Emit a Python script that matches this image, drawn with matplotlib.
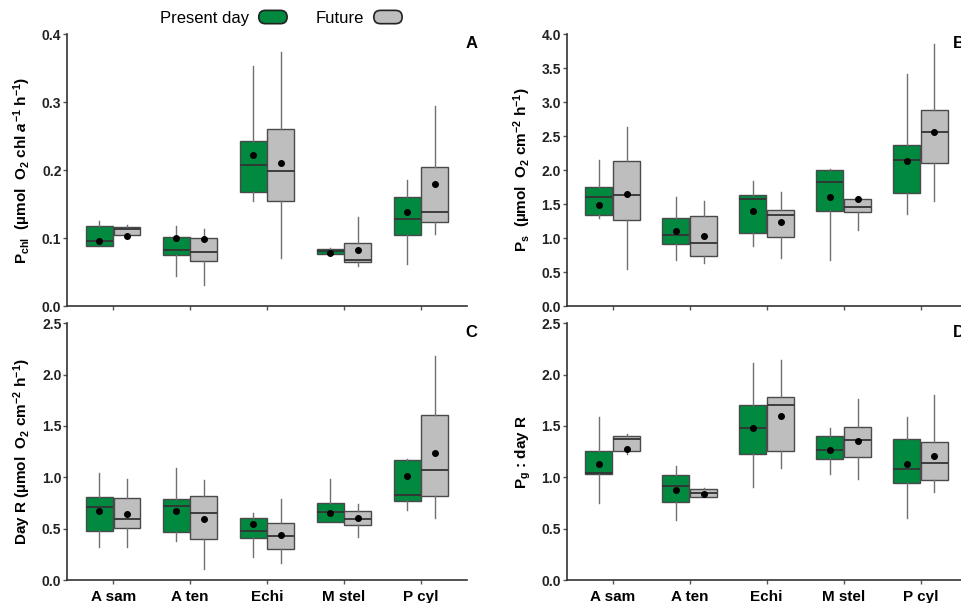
import numpy as np
import matplotlib
matplotlib.use('Agg')
import matplotlib.pyplot as plt
from matplotlib.patches import Patch, FancyBboxPatch
from matplotlib.legend_handler import HandlerPatch

plt.rcParams['font.family'] = ['Liberation Sans', 'DejaVu Sans']
plt.rcParams['font.weight'] = 'bold'
plt.rcParams['mathtext.fontset'] = 'custom'
plt.rcParams['mathtext.rm'] = 'Liberation Sans:bold'
plt.rcParams['mathtext.it'] = 'Liberation Sans:italic:bold'
plt.rcParams['mathtext.bf'] = 'Liberation Sans:bold'
plt.rcParams['mathtext.default'] = 'rm'

species = ['A sam', 'A ten', 'Echi', 'M stel', 'P cyl']

# each row: whisker low, q1, median, q3, whisker high, mean
pchl_present = [[0.089, 0.089, 0.095, 0.118, 0.125, 0.095],
                [0.044, 0.075, 0.082, 0.102, 0.117, 0.100],
                [0.155, 0.167, 0.208, 0.242, 0.353, 0.222],
                [0.077, 0.077, 0.081, 0.084, 0.086, 0.078],
                [0.062, 0.105, 0.128, 0.160, 0.185, 0.139]]
pchl_future = [[0.105, 0.105, 0.113, 0.116, 0.119, 0.103],
               [0.031, 0.066, 0.080, 0.100, 0.113, 0.098],
               [0.070, 0.155, 0.199, 0.260, 0.373, 0.210],
               [0.059, 0.065, 0.067, 0.093, 0.131, 0.082],
               [0.106, 0.123, 0.139, 0.204, 0.294, 0.180]]

ps_present = [[1.30, 1.34, 1.61, 1.75, 2.15, 1.48],
              [0.67, 0.91, 1.04, 1.29, 1.60, 1.10],
              [0.89, 1.07, 1.58, 1.63, 1.84, 1.40],
              [0.68, 1.40, 1.83, 2.00, 2.02, 1.61],
              [1.36, 1.66, 2.15, 2.37, 3.42, 2.13]]
ps_future = [[0.55, 1.27, 1.64, 2.14, 2.64, 1.65],
             [0.63, 0.73, 0.93, 1.33, 1.55, 1.03],
             [0.71, 1.01, 1.34, 1.41, 1.67, 1.23],
             [1.12, 1.39, 1.46, 1.58, 1.62, 1.57],
             [1.54, 2.10, 2.56, 2.88, 3.86, 2.56]]

dayr_present = [[0.32, 0.48, 0.71, 0.81, 1.045, 0.675],
                [0.38, 0.47, 0.72, 0.79, 1.09, 0.67],
                [0.22, 0.41, 0.48, 0.60, 0.65, 0.545],
                [0.57, 0.57, 0.66, 0.75, 0.98, 0.655],
                [0.68, 0.77, 0.83, 1.165, 1.18, 1.01]]
dayr_future = [[0.32, 0.51, 0.59, 0.795, 0.98, 0.64],
               [0.11, 0.40, 0.65, 0.82, 0.97, 0.59],
               [0.17, 0.30, 0.425, 0.555, 0.79, 0.44],
               [0.42, 0.54, 0.59, 0.675, 0.74, 0.60],
               [0.60, 0.82, 1.075, 1.61, 2.18, 1.24]]

pgr_present = [[0.75, 1.03, 1.045, 1.26, 1.585, 1.13],
               [0.58, 0.76, 0.92, 1.02, 1.11, 0.875],
               [0.91, 1.225, 1.48, 1.70, 2.11, 1.48],
               [1.03, 1.18, 1.27, 1.40, 1.48, 1.27],
               [0.60, 0.94, 1.08, 1.37, 1.59, 1.13]]
pgr_future = [[1.23, 1.26, 1.37, 1.40, 1.42, 1.275],
              [0.81, 0.81, 0.845, 0.89, 0.90, 0.84],
              [1.09, 1.26, 1.705, 1.78, 2.14, 1.595],
              [0.98, 1.195, 1.36, 1.49, 1.76, 1.355],
              [0.86, 0.97, 1.14, 1.345, 1.80, 1.205]]

GREEN = '#00893f'
GRAY = '#bebebe'


def draw_panel(ax, present, future, ytop, ystep, ylabel, letter, letter_x, show_names):
    pos = np.arange(1, len(species) + 1)
    for rows, shift, color in ((present, -0.18, GREEN), (future, 0.18, GRAY)):
        stats = [dict(whislo=r[0], q1=r[1], med=r[2], q3=r[3], whishi=r[4],
                      mean=r[5], fliers=[]) for r in rows]
        ax.bxp(stats, positions=pos + shift, widths=0.35, showmeans=True,
               showcaps=False, patch_artist=True, manage_ticks=False,
               boxprops=dict(facecolor=color, edgecolor='#4a4a4a', linewidth=1),
               medianprops=dict(color='#333333', linewidth=1.3),
               whiskerprops=dict(color='#707070', linewidth=1),
               meanprops=dict(marker='o', markerfacecolor='black',
                              markeredgecolor='black', markersize=4))
    ax.set_xlim(0.4, 5.6)
    ax.set_ylim(0, ytop)
    ticks = np.arange(0, ytop + ystep / 2, ystep)
    ax.set_yticks(ticks, [f'{t:.1f}' for t in ticks])
    ax.set_xticks(pos, species if show_names else [])
    for side in ('top', 'right'):
        ax.spines[side].set_visible(False)
    for side in ('left', 'bottom'):
        ax.spines[side].set_color('#333333')
        ax.spines[side].set_linewidth(1.2)
    ax.tick_params(axis='y', direction='out', length=3, width=1,
                   color='#555555', labelsize=10, labelcolor='#222222', pad=1)
    ax.tick_params(axis='x', direction='out', length=3, width=1,
                   color='#555555', labelsize=11, labelcolor='black', pad=4)
    ax.set_ylabel(ylabel, fontsize=11, fontweight='bold')
    ax.yaxis.set_label_coords(-0.085, 0.5)
    ax.text(letter_x, 0.965, letter, transform=ax.transAxes, fontsize=12,
            fontweight='bold', ha='left', va='center')


fig = plt.figure(figsize=(9.62, 6.03), dpi=100)
ax_a = fig.add_axes([0.0696, 0.4925, 0.416, 0.451])
ax_b = fig.add_axes([0.589, 0.4925, 0.416, 0.451])
ax_c = fig.add_axes([0.0696, 0.038, 0.416, 0.426])
ax_d = fig.add_axes([0.589, 0.038, 0.416, 0.426])

draw_panel(ax_a, pchl_present, pchl_future, 0.4, 0.1,
           r'P$_{chl}$  (µmol  O$_2$ chl $\mathit{a}^{-1}$ h$^{-1}$)', 'A', 0.995, False)
draw_panel(ax_b, ps_present, ps_future, 4.0, 0.5,
           r'P$_s$  (µmol  O$_2$ cm$^{-2}$ h$^{-1}$)', 'B', 0.965, False)
draw_panel(ax_c, dayr_present, dayr_future, 2.5, 0.5,
           r'Day R (µmol  O$_2$ cm$^{-2}$ h$^{-1}$)', 'C', 0.995, True)
draw_panel(ax_d, pgr_present, pgr_future, 2.5, 0.5,
           r'P$_g$ : day R', 'D', 0.965, True)


def round_key(legend, orig_handle, xdescent, ydescent, width, height, fontsize):
    return FancyBboxPatch((-xdescent, -ydescent), width, height,
                          boxstyle=f'round,pad=0,rounding_size={height / 2}')


handles = [Patch(facecolor=GREEN, edgecolor='#222222', linewidth=1.2),
           Patch(facecolor=GRAY, edgecolor='#222222', linewidth=1.2)]
fig.legend(handles, ['Present day', 'Future'], loc='center', ncol=2,
           bbox_to_anchor=(0.292, 0.97), frameon=False, markerfirst=False,
           prop=dict(size=12, weight='normal'), handlelength=1.7,
           handleheight=0.85, handletextpad=0.6, columnspacing=1.7,
           handler_map={Patch: HandlerPatch(patch_func=round_key)})

fig.savefig('out.png', dpi=100)
